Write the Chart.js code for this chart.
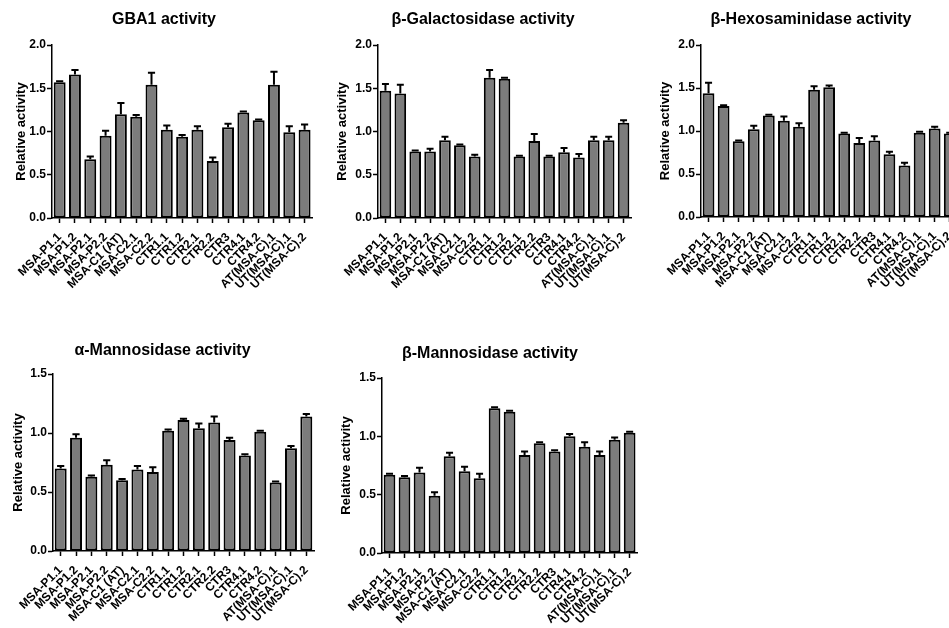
<!DOCTYPE html>
<html>
<head>
<meta charset="utf-8">
<script src="https://cdn.jsdelivr.net/npm/chart.js@4.4.1/dist/chart.umd.min.js"></script>
<style>
  html, body { margin: 0; padding: 0; background: #ffffff; }
  body { width: 949px; height: 628px; overflow: hidden; position: relative; }
  canvas { position: absolute; }
</style>
</head>
<body>
<canvas id="c1" width="322" height="320" style="left:0px;top:0px"></canvas>
<canvas id="c2" width="331" height="320" style="left:320px;top:0px"></canvas>
<canvas id="c3" width="332" height="320" style="left:635px;top:0px"></canvas>
<canvas id="c4" width="330" height="298" style="left:0px;top:330px"></canvas>
<canvas id="c5" width="314" height="293" style="left:333px;top:335px"></canvas>
<script>
const categories = ["MSA-P1.1","MSA-P1.2","MSA-P2.1","MSA-P2.2","MSA-C1 (AT)","MSA-C2.1","MSA-C2.2",
  "CTR1.1","CTR1.2","CTR2.1","CTR2.2","CTR3","CTR4.1","CTR4.2","AT(MSA-C).1","UT(MSA-C).1","UT(MSA-C).2"];

const gba1Values = [1.57,1.66,0.68,0.95,1.20,1.17,1.54,1.02,0.94,1.02,0.66,1.05,1.22,1.13,1.54,0.99,1.02];
const gba1Errors = [0.01,0.05,0.03,0.06,0.13,0.02,0.14,0.05,0.02,0.04,0.04,0.04,0.01,0.01,0.15,0.07,0.06];

const galValues = [1.47,1.44,0.77,0.77,0.90,0.84,0.71,1.62,1.61,0.71,0.89,0.71,0.76,0.70,0.90,0.90,1.10];
const galErrors = [0.08,0.10,0.01,0.03,0.04,0.01,0.02,0.09,0.01,0.01,0.08,0.01,0.05,0.04,0.04,0.04,0.03];

const hexValues = [1.44,1.29,0.88,1.02,1.18,1.12,1.05,1.48,1.51,0.97,0.86,0.89,0.73,0.60,0.98,1.03,0.97];
const hexErrors = [0.12,0.01,0.01,0.04,0.01,0.05,0.04,0.04,0.02,0.01,0.06,0.05,0.03,0.03,0.01,0.02,0.01];

const aManValues = [0.70,0.96,0.63,0.73,0.60,0.69,0.67,1.02,1.11,1.04,1.09,0.94,0.81,1.01,0.58,0.87,1.14];
const aManErrors = [0.02,0.03,0.01,0.04,0.01,0.03,0.04,0.01,0.01,0.04,0.05,0.02,0.01,0.01,0.01,0.02,0.02];

const bManValues = [0.67,0.65,0.69,0.49,0.83,0.70,0.64,1.24,1.21,0.84,0.94,0.87,1.00,0.91,0.84,0.97,1.03];
const bManErrors = [0.01,0.01,0.04,0.03,0.03,0.04,0.04,0.01,0.01,0.03,0.01,0.01,0.02,0.04,0.03,0.02,0.01];

const yTickStep = 0.5;

const FONT = '"Liberation Sans", Arial, Helvetica, sans-serif';

const errorBarPlugin = {
  id: 'errbars',
  afterDatasetsDraw(chart) {
    const ds = chart.data.datasets[0];
    const errs = ds.errors;
    const meta = chart.getDatasetMeta(0);
    const yScale = chart.scales.y;
    const ctx = chart.ctx;
    ctx.save();
    ctx.strokeStyle = '#000000';
    ctx.lineWidth = 2;
    ctx.lineCap = 'butt';
    meta.data.forEach((bar, i) => {
      const topPx = yScale.getPixelForValue(ds.data[i] + errs[i]);
      const x = bar.x;
      const capHalf = bar.width * 0.3;
      ctx.beginPath();
      ctx.moveTo(x, bar.y);
      ctx.lineTo(x, topPx);
      ctx.moveTo(x - capHalf, topPx);
      ctx.lineTo(x + capHalf, topPx);
      ctx.stroke();
    });
    ctx.restore();
  }
};

function makeChart(id, o) {
  return new Chart(document.getElementById(id), {
    type: 'bar',
    data: {
      labels: categories,
      datasets: [{
        data: o.values,
        errors: o.errors,
        backgroundColor: '#7c7c7c',
        borderColor: '#000000',
        borderWidth: 2,
        borderSkipped: false,
        barPercentage: 0.78,
        categoryPercentage: 1.0
      }]
    },
    plugins: [errorBarPlugin],
    options: {
      responsive: false,
      devicePixelRatio: 1,
      animation: false,
      layout: { padding: { left: o.padLeft, right: o.padRight, top: 0, bottom: 0 } },
      plugins: {
        legend: { display: false },
        tooltip: { enabled: false },
        title: {
          display: true,
          text: o.title,
          color: '#000000',
          font: { family: FONT, size: 16, weight: 'bold', lineHeight: 1.2 },
          padding: { top: o.titleTop, bottom: o.titleBottom }
        }
      },
      scales: {
        x: {
          offset: true,
          grid: { display: true, drawOnChartArea: false, offset: false, tickLength: 5, tickWidth: 1.5, tickColor: '#000000' },
          border: { display: true, color: '#000000', width: 1.5 },
          ticks: {
            autoSkip: false, minRotation: 45, maxRotation: 45, padding: 7,
            color: '#000000',
            font: { family: FONT, size: 12, weight: 'bold' }
          },
          afterFit(scale) { scale.height = o.xHeight; }
        },
        y: {
          min: 0, max: o.yMax,
          grid: { display: true, drawOnChartArea: false, tickLength: 5, tickWidth: 1.5, tickColor: '#000000' },
          border: { display: true, color: '#000000', width: 1.5 },
          ticks: {
            stepSize: yTickStep, padding: 1, color: '#000000',
            font: { family: FONT, size: 12, weight: 'bold' },
            callback: (v) => Number(v).toFixed(1)
          },
          title: {
            display: true, text: 'Relative activity', color: '#000000', padding: 0,
            font: { family: FONT, size: 13, weight: 'bold', lineHeight: 1.2 }
          },
          afterFit(scale) { scale.width = o.yWidth; }
        }
      }
    }
  });
}

makeChart('c1', { title: 'GBA1 activity', values: gba1Values, errors: gba1Errors, yMax: 2.0,
  padLeft: 14, padRight: 8, yWidth: 38, xHeight: 102, titleTop: 10.4, titleBottom: 15.4 });
makeChart('c2', { title: 'β-Galactosidase activity', values: galValues, errors: galErrors, yMax: 2.0,
  padLeft: 15, padRight: 20, yWidth: 43, xHeight: 102, titleTop: 10.4, titleBottom: 15.4 });
makeChart('c3', { title: 'β-Hexosaminidase activity', values: hexValues, errors: hexErrors, yMax: 2.0,
  padLeft: 23, padRight: 3, yWidth: 43, xHeight: 103, titleTop: 10.4, titleBottom: 15.4 });
makeChart('c4', { title: 'α-Mannosidase activity', values: aManValues, errors: aManErrors, yMax: 1.5,
  padLeft: 11, padRight: 16, yWidth: 42, xHeight: 77, titleTop: 11.1, titleBottom: 13.7 });
makeChart('c5', { title: 'β-Mannosidase activity', values: bManValues, errors: bManErrors, yMax: 1.5,
  padLeft: 6, padRight: 6, yWidth: 43, xHeight: 75, titleTop: 9.4, titleBottom: 14.4 });
</script>
</body>
</html>
